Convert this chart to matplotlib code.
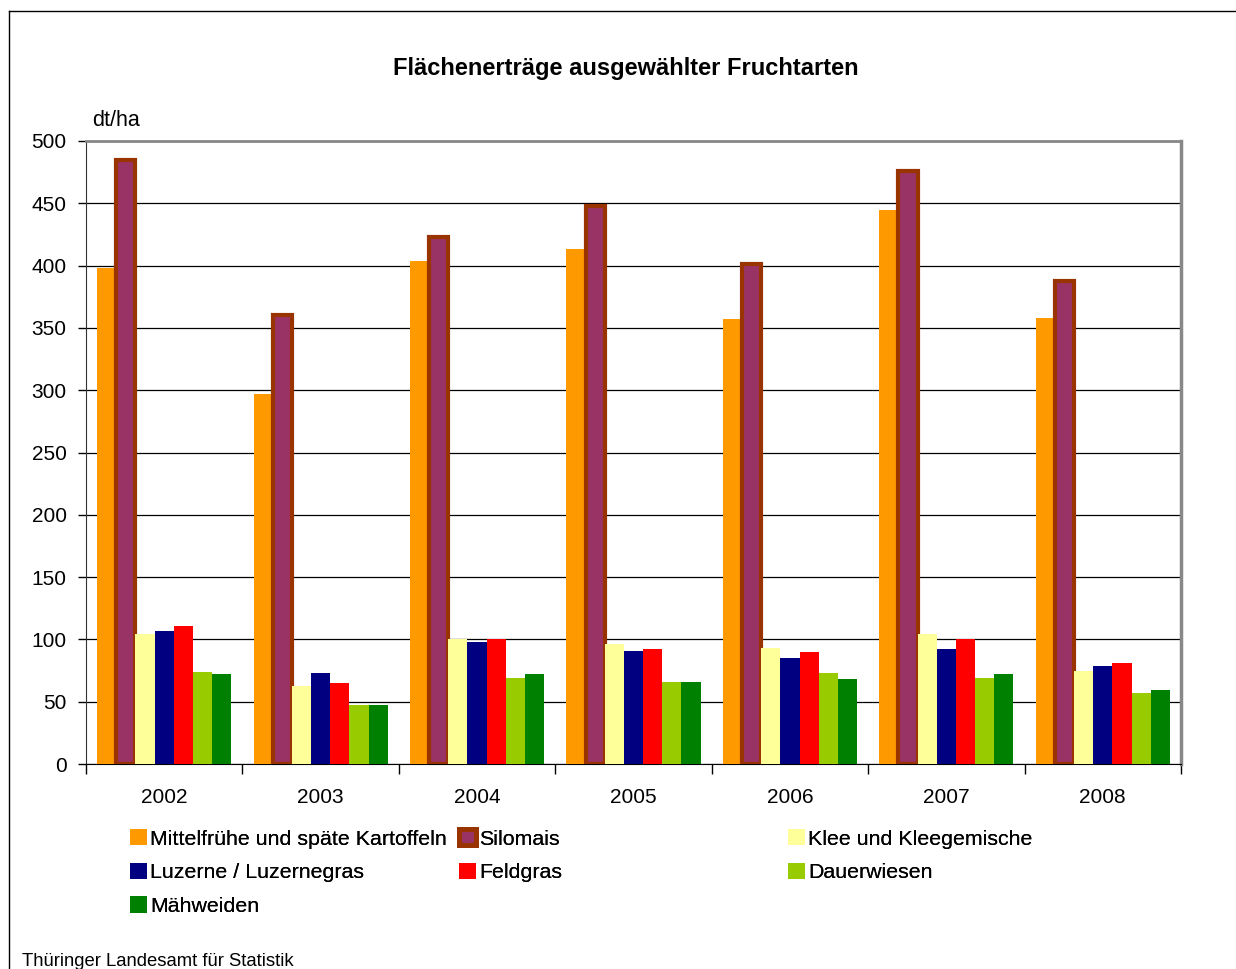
import matplotlib.pyplot as plt
import numpy as np
from matplotlib.lines import Line2D
from matplotlib.patches import Patch

plt.rcParams['font.family'] = ['Liberation Sans', 'DejaVu Sans']

# Werte in dt/ha
jahre = ['2002', '2003', '2004', '2005', '2006', '2007', '2008']
kartoffeln = [398, 297, 404, 413, 357, 445, 358]
silomais = [485, 360, 423, 448, 401, 476, 388]
klee = [104, 63, 100, 96, 93, 104, 75]
luzerne = [107, 73, 98, 91, 85, 92, 79]
feldgras = [111, 65, 100, 92, 90, 100, 81]
dauerwiesen = [74, 47, 69, 66, 73, 69, 57]
maehweiden = [72, 47, 72, 66, 68, 72, 59]

namen = ['Mittelfrühe und späte Kartoffeln', 'Silomais', 'Klee und Kleegemische',
         'Luzerne / Luzernegras', 'Feldgras', 'Dauerwiesen', 'Mähweiden']
serien = [kartoffeln, silomais, klee, luzerne, feldgras, dauerwiesen, maehweiden]
farben = ['#FF9900', '#993366', '#FFFF99', '#000080', '#FF0000', '#99CC00', '#008000']

fig = plt.figure(figsize=(12.36, 9.69), dpi=100)
ax = fig.add_axes([86/1236, 1 - 764/969, (1181-86)/1236, (764-141)/969])

x = np.arange(len(jahre))
w = 0.1224
handles = []
for i, (werte, farbe) in enumerate(zip(serien, farben)):
    if i == 1:
        ax.bar(x + (i-3)*w, werte, w, color=farbe, edgecolor='#993300', linewidth=3.0, zorder=3)
        handles.append(Patch(facecolor=farbe, edgecolor='#993300', linewidth=3.5))
    else:
        ax.bar(x + (i-3)*w, werte, w, color=farbe, linewidth=0, zorder=3)
        handles.append(Patch(facecolor=farbe, linewidth=0))

ax.set_xlim(-0.5, 6.5)
ax.set_ylim(0, 500)
ax.set_yticks(range(0, 501, 50))
ax.tick_params(axis='y', labelsize=15, length=6, width=1, pad=8)
ax.set_xticks(x)
ax.set_xticklabels(jahre)
ax.set_xticks(np.arange(-0.5, 7, 1), minor=True)
ax.tick_params(axis='x', which='major', length=0, labelsize=15, pad=17)
ax.tick_params(axis='x', which='minor', length=7, width=1, direction='out')
ax.grid(axis='y', color='black', linewidth=0.9, zorder=0)
ax.set_axisbelow(True)

ax.spines['top'].set_color('#888888')
ax.spines['top'].set_linewidth(2)
ax.spines['right'].set_color('#888888')
ax.spines['right'].set_linewidth(2.5)
ax.spines['left'].set_color('#333333')
ax.spines['bottom'].set_color('black')

fig.text(626/1236, 1 - 69/969, 'Flächenerträge ausgewählter Fruchtarten', ha='center', va='center',
         fontsize=17, fontweight='bold')
fig.text(92/1236, 1 - 121/969, 'dt/ha', ha='left', va='center', fontsize=15.5)
fig.text(22/1236, 1 - 961/969, 'Thüringer Landesamt für Statistik', ha='left', va='center', fontsize=13.3)

# Legende in drei Spalten wie im Original
spalten = [[0, 3, 6], [1, 4], [2, 5]]
spalten_x = [130, 459, 788]
for idx, sx in zip(spalten, spalten_x):
    leg = fig.legend([handles[k] for k in idx], [namen[k] for k in idx], loc='upper left',
                     bbox_to_anchor=(sx/1236, 1 - 829/969), frameon=False, fontsize=15.4,
                     handlelength=0.8, handleheight=0.8, handletextpad=0.15,
                     labelspacing=0.66, borderpad=0, borderaxespad=0)
    fig.add_artist(leg)

# Rahmen um die Grafik
fig.add_artist(Line2D([9/1236, 1], [1 - 11/969, 1 - 11/969], color='black', linewidth=1))
fig.add_artist(Line2D([9/1236, 9/1236], [0, 1 - 11/969], color='black', linewidth=1))

plt.savefig('out.png', dpi=100)
